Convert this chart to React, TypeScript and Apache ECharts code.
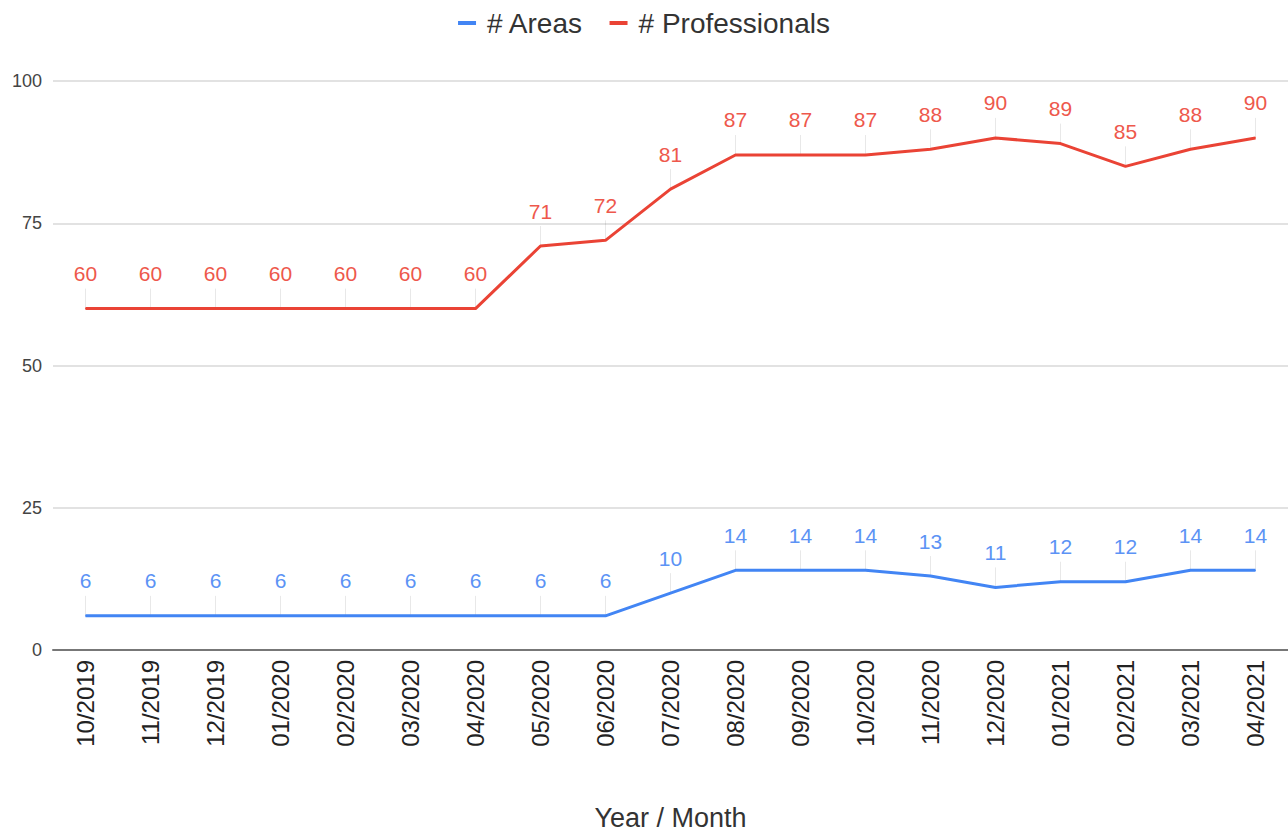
import React, { useEffect, useRef } from "react";
import * as echarts from "echarts";

const months = [
  "10/2019", "11/2019", "12/2019", "01/2020", "02/2020", "03/2020", "04/2020",
  "05/2020", "06/2020", "07/2020", "08/2020", "09/2020", "10/2020", "11/2020",
  "12/2020", "01/2021", "02/2021", "03/2021", "04/2021",
];
const areas = [6, 6, 6, 6, 6, 6, 6, 6, 6, 10, 14, 14, 14, 13, 11, 12, 12, 14, 14];
const professionals = [60, 60, 60, 60, 60, 60, 60, 71, 72, 81, 87, 87, 87, 88, 90, 89, 85, 88, 90];
const yTicks = { min: 0, max: 100, interval: 25 };

const BLUE = "#4285f4";
const RED = "#ea4335";
const FONT = "'Liberation Sans', Arial, sans-serif";

// short faint stem from each point up toward its value label
const leaderSeries = (values: number[]) => ({
  type: "custom",
  silent: true,
  z: 1,
  data: values.map((v, i) => [i, v]),
  encode: { x: 0, y: 1 },
  renderItem: (_params: any, api: any) => {
    const p = api.coord([api.value(0), api.value(1)]);
    return {
      type: "line",
      shape: { x1: p[0], y1: p[1], x2: p[0], y2: p[1] - 20 },
      style: { stroke: "rgba(0,0,0,0.09)", lineWidth: 1 },
    };
  },
});

const lineSeries = (name: string, values: number[], color: string, labelColor: string) => ({
  name,
  type: "line",
  data: values,
  z: 3,
  showSymbol: true,
  symbol: "circle",
  symbolSize: 1,
  lineStyle: { color, width: 3 },
  itemStyle: { color },
  label: {
    show: true,
    position: "top",
    distance: 24,
    color: labelColor,
    fontSize: 21,
    fontFamily: FONT,
  },
});

export default function App() {
  const ref = useRef<HTMLDivElement>(null);
  useEffect(() => {
    if (!ref.current) return;
    const chart = echarts.init(ref.current, undefined, { renderer: "svg" });
    chart.setOption({
      animation: false,
      backgroundColor: "#ffffff",
      textStyle: { fontFamily: FONT },
      legend: {
        top: 4,
        left: "center",
        data: ["# Areas", "# Professionals"],
        icon: "rect",
        itemWidth: 18,
        itemHeight: 4,
        itemGap: 26,
        textStyle: { fontSize: 28, color: "#333", fontFamily: FONT, padding: [0, 0, 0, 6] },
      },
      grid: { left: 53, right: 0, top: 81, bottom: 182, outerBoundsMode: "none" },
      xAxis: {
        type: "category",
        data: months,
        boundaryGap: true,
        name: "Year / Month",
        nameLocation: "middle",
        nameGap: 154,
        nameTextStyle: { fontSize: 27, color: "#333", fontFamily: FONT },
        axisLine: { lineStyle: { color: "#777", width: 2 } },
        axisTick: { show: false },
        axisLabel: {
          rotate: 90,
          fontSize: 24,
          color: "#222",
          margin: 10,
          interval: 0,
          fontFamily: FONT,
        },
      },
      yAxis: {
        type: "value",
        min: yTicks.min,
        max: yTicks.max,
        interval: yTicks.interval,
        axisLine: { show: false },
        axisTick: { show: false },
        axisLabel: { fontSize: 18, color: "#444", margin: 11, fontFamily: FONT },
        splitLine: { lineStyle: { color: "#e2e2e2", width: 2 } },
      },
      series: [
        leaderSeries(areas),
        leaderSeries(professionals),
        lineSeries("# Areas", areas, BLUE, "#5c93f5"),
        lineSeries("# Professionals", professionals, RED, "#ee584c"),
      ],
    });
    return () => chart.dispose();
  }, []);
  return (
    <div
      ref={ref}
      style={{ position: "absolute", left: 0, top: 0, width: 1288, height: 832 }}
    />
  );
}
